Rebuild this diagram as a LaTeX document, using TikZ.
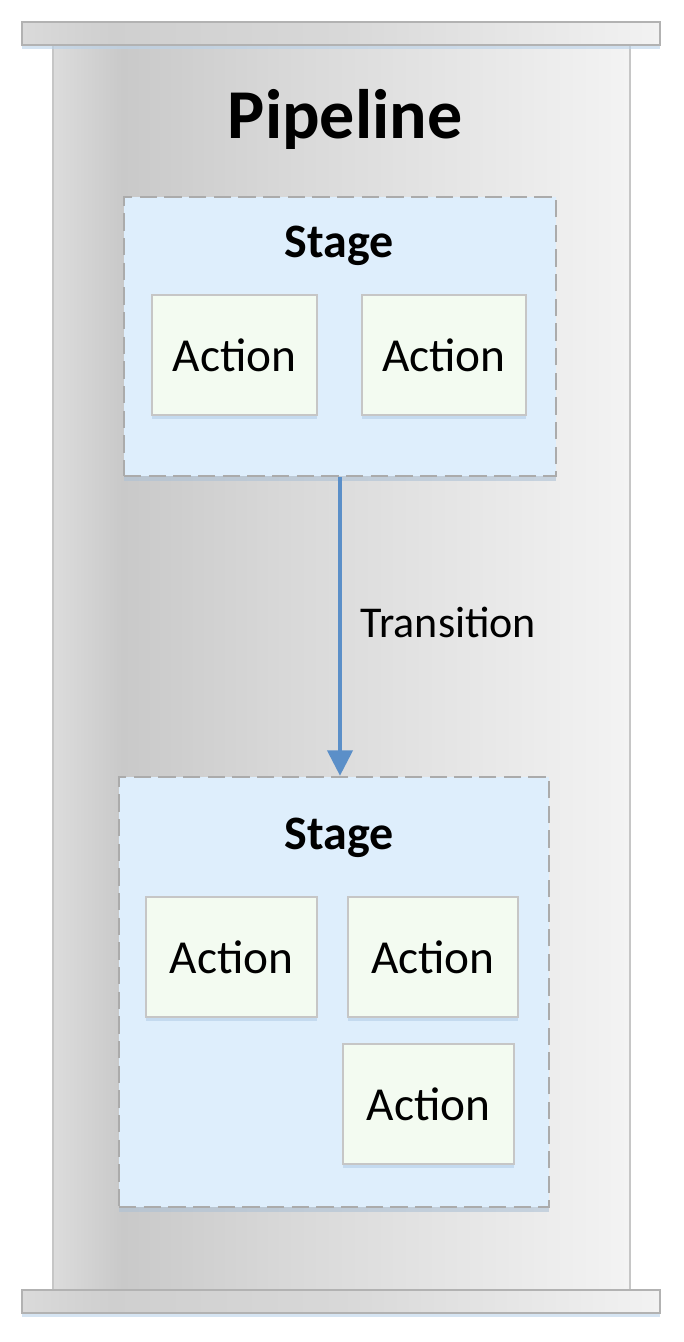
\documentclass[tikz,border=0pt]{standalone}
\usepackage{fontspec}
\setmainfont{Carlito}
\usetikzlibrary{arrows.meta,shadows}
\definecolor{stagefill}{HTML}{DEEEFC}
\definecolor{stageline}{HTML}{ABABAB}
\definecolor{actfill}{HTML}{F3FBF1}
\definecolor{actline}{HTML}{C6C6C6}
\definecolor{arrowblue}{HTML}{5B8FC8}
\definecolor{shadowblue}{HTML}{B9D2EA}
\definecolor{colA}{HTML}{DCDCDC}
\definecolor{colB}{HTML}{C9C9C9}
\definecolor{colC}{HTML}{D8D8D8}
\definecolor{colD}{HTML}{F3F3F3}
\definecolor{barA}{HTML}{DADADA}
\definecolor{barB}{HTML}{CFCFCF}
\definecolor{barD}{HTML}{F2F2F2}
\pgfdeclarehorizontalshading{columnshade}{100bp}{color(0bp)=(colA); color(25bp)=(colA); color(31bp)=(colB); color(45bp)=(colC); color(75bp)=(colD); color(100bp)=(colD)}
\pgfdeclarehorizontalshading{barshade}{100bp}{color(0bp)=(barA); color(25bp)=(barA); color(32bp)=(barB); color(50bp)=(colC); color(75bp)=(barD); color(100bp)=(barD)}
\tikzset{
  column/.style={draw=actline, line width=1.5pt, shading=columnshade},
  bar/.style={draw=actline!90!black, line width=1.5pt, shading=barshade,
    drop shadow={shadow xshift=0pt, shadow yshift=-3pt, fill=shadowblue, opacity=.6}},
  stagebox/.style={draw=stageline, line width=2pt, fill=stagefill, inner sep=0pt,
    dash pattern=on 13pt off 5.5pt,
    drop shadow={shadow xshift=0pt, shadow yshift=-4pt, fill=shadowblue!80!gray, opacity=.6}},
  actbox/.style={draw=actline, line width=1.2pt, fill=actfill, inner sep=0pt,
    minimum height=90pt, font=\fontsize{35.5}{40}\selectfont,
    drop shadow={shadow xshift=0pt, shadow yshift=-3pt, fill=shadowblue, opacity=.7}},
  stagetitle/.style={font=\fontsize{36}{40}\selectfont\bfseries},
  pipetitle/.style={font=\fontsize{52.5}{60}\selectfont\bfseries},
  flow/.style={draw=arrowblue, line width=2.3pt, -{Triangle[length=19pt,width=19pt]}},
  flowlabel/.style={font=\fontsize{33}{38}\selectfont}
}
\begin{document}
\begin{tikzpicture}[x=0.75pt,y=-0.75pt]
\useasboundingbox (0,0) rectangle (684,1342);
% column and caps
\path[column] (53,45) rectangle (630,1290);
\path[bar] (22,22) rectangle (660,45);
\path[bar] (22,1290) rectangle (660,1313);
\node[pipetitle] (pipe) at (345,119) {Pipeline};
% stage 1
\node[stagebox, minimum width=324pt, minimum height=209.25pt] (s1) at (340,336.5) {};
\node[stagetitle] (s1t) at (339,246) {Stage};
\node[actbox, minimum width=123.75pt] (a11) at (234.5,355) {Action};
\node[actbox, minimum width=123pt] (a12) at (444,355) {Action};
% stage 2
\node[stagebox, minimum width=322.5pt, minimum height=322.5pt] (s2) at (334,992) {};
\node[stagetitle] (s2t) at (339,838) {Stage};
\node[actbox, minimum width=128.25pt] (a21) at (231.5,957) {Action};
\node[actbox, minimum width=127.5pt] (a22) at (433,957) {Action};
\node[actbox, minimum width=128.25pt] (a23) at (428.5,1104) {Action};
% transition
\draw[flow] (s1.south) -- node[flowlabel, right=11pt, yshift=3pt] (tl) {Transition} (s1.south |- s2.north);
\end{tikzpicture}
\end{document}
